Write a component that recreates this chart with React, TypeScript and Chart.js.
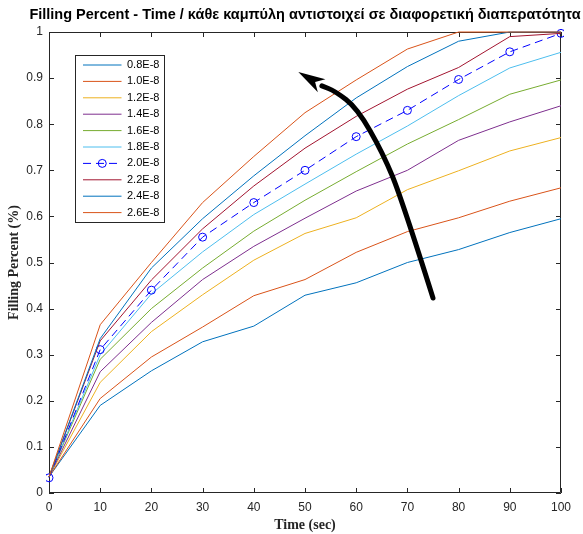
import React, { useEffect, useRef } from 'react';
import { Chart, registerables } from 'chart.js';

Chart.register(...registerables);

// ---------- data ----------
const TIME_SEC = [0, 10, 20, 30, 40, 50, 60, 70, 80, 90, 100];

const PERMEABILITY_LABELS = ['0.8E-8', '1.0E-8', '1.2E-8', '1.4E-8', '1.6E-8', '1.8E-8', '2.0E-8', '2.2E-8', '2.4E-8', '2.6E-8'];

const FILL_08 = [0.035, 0.19, 0.265, 0.328, 0.362, 0.429, 0.456, 0.5, 0.528, 0.565, 0.595];
const FILL_10 = [0.035, 0.205, 0.295, 0.36, 0.428, 0.463, 0.522, 0.567, 0.597, 0.633, 0.662];
const FILL_12 = [0.035, 0.24, 0.35, 0.43, 0.505, 0.563, 0.597, 0.658, 0.699, 0.742, 0.771];
const FILL_14 = [0.035, 0.263, 0.37, 0.463, 0.535, 0.596, 0.655, 0.7, 0.765, 0.805, 0.84];
const FILL_16 = [0.035, 0.29, 0.4, 0.488, 0.568, 0.635, 0.697, 0.757, 0.81, 0.865, 0.896];
const FILL_18 = [0.035, 0.3, 0.432, 0.523, 0.604, 0.67, 0.735, 0.796, 0.862, 0.922, 0.956];
const FILL_20 = [0.033, 0.311, 0.44, 0.555, 0.63, 0.7, 0.773, 0.83, 0.897, 0.957, 0.997];
const FILL_22 = [0.035, 0.33, 0.462, 0.573, 0.666, 0.748, 0.817, 0.876, 0.923, 0.99, 0.997];
const FILL_24 = [0.035, 0.335, 0.488, 0.595, 0.688, 0.775, 0.857, 0.925, 0.98, 1.0, 1.0];
const FILL_26 = [0.035, 0.365, 0.5, 0.63, 0.73, 0.825, 0.896, 0.963, 1.0, 1.0, 1.0];

const SERIES = [FILL_08, FILL_10, FILL_12, FILL_14, FILL_16, FILL_18, FILL_20, FILL_22, FILL_24, FILL_26];

const SERIES_COLORS = ['#0072BD', '#D95319', '#EDB120', '#7E2F8E', '#77AC30', '#4DBEEE', '#0000FF', '#A2142F', '#0072BD', '#D95319'];
const DASHED_INDEX = 6;

const X_TICK_LABELS = ['0', '10', '20', '30', '40', '50', '60', '70', '80', '90', '100'];
const Y_TICK_LABELS = ['0', '0.1', '0.2', '0.3', '0.4', '0.5', '0.6', '0.7', '0.8', '0.9', '1'];

const TITLE = 'Filling Percent - Time / κάθε καμπύλη αντιστοιχεί σε διαφορετική διαπερατότητα';
const X_TITLE = 'Time (sec)';
const Y_TITLE = 'Filling Percent (%)';

// annotation arrow, in data coordinates (time, fraction)
const ARROW_SHAFT = [[75.0, 0.423], [68.95, 0.636], [65.2, 0.738], [60.16, 0.835], [55.86, 0.872], [53.3, 0.883]];
const ARROW_TIP = [48.7, 0.913];

const SANS = '"Liberation Sans", Arial, Helvetica, sans-serif';
const SERIF = '"Liberation Serif", "Times New Roman", serif';
const AXIS_COLOR = '#262626';

// ---------- plugins ----------
const boxPlugin = {
  id: 'matlabBox',
  beforeDatasetsDraw(chart: any) {
    const { ctx, chartArea } = chart;
    const { left, right, top, bottom } = chartArea;
    const xs = chart.scales.x;
    const ys = chart.scales.y;
    ctx.save();
    ctx.strokeStyle = AXIS_COLOR;
    ctx.lineWidth = 1;
    ctx.beginPath();
    ctx.rect(Math.round(left) + 0.5, Math.round(top) + 0.5, Math.round(right - left) - 1, Math.round(bottom - top) - 1);
    ctx.stroke();
    const tl = 5;
    ctx.beginPath();
    xs.ticks.forEach((t: any) => {
      const px = Math.round(xs.getPixelForValue(t.value)) + 0.5;
      ctx.moveTo(px, bottom);
      ctx.lineTo(px, bottom - tl);
      ctx.moveTo(px, top);
      ctx.lineTo(px, top + tl);
    });
    ys.ticks.forEach((t: any) => {
      const py = Math.round(ys.getPixelForValue(t.value)) + 0.5;
      ctx.moveTo(left, py);
      ctx.lineTo(left + tl, py);
      ctx.moveTo(right, py);
      ctx.lineTo(right - tl, py);
    });
    ctx.stroke();
    ctx.restore();
  },
};

const arrowPlugin = {
  id: 'arrowAnnotation',
  afterDatasetsDraw(chart: any) {
    const { ctx } = chart;
    const xs = chart.scales.x;
    const ys = chart.scales.y;
    const pts = ARROW_SHAFT.map(([x, y]) => [xs.getPixelForValue(x), ys.getPixelForValue(y)]);
    const tip = [xs.getPixelForValue(ARROW_TIP[0]), ys.getPixelForValue(ARROW_TIP[1])];
    ctx.save();
    ctx.strokeStyle = '#000';
    ctx.fillStyle = '#000';
    ctx.lineWidth = 5;
    ctx.lineCap = 'round';
    ctx.lineJoin = 'round';
    ctx.beginPath();
    ctx.moveTo(pts[0][0], pts[0][1]);
    for (let i = 1; i < pts.length - 1; i++) {
      const mx = (pts[i][0] + pts[i + 1][0]) / 2;
      const my = (pts[i][1] + pts[i + 1][1]) / 2;
      ctx.quadraticCurveTo(pts[i][0], pts[i][1], mx, my);
    }
    const last = pts[pts.length - 1];
    ctx.lineTo(last[0], last[1]);
    ctx.stroke();
    // head
    let ux = tip[0] - last[0];
    let uy = tip[1] - last[1];
    const n = Math.hypot(ux, uy);
    ux /= n; uy /= n;
    const px = -uy, py = ux;
    const L = 27, W = 15;
    const bx = tip[0] - ux * L, by = tip[1] - uy * L;
    const nx = tip[0] - ux * L * 0.72, ny = tip[1] - uy * L * 0.72;
    ctx.beginPath();
    ctx.moveTo(tip[0], tip[1]);
    ctx.lineTo(bx + px * W / 2, by + py * W / 2);
    ctx.lineTo(nx, ny);
    ctx.lineTo(bx - px * W / 2, by - py * W / 2);
    ctx.closePath();
    ctx.fill();
    ctx.restore();
  },
};

const legendPlugin = {
  id: 'insideLegend',
  afterDraw(chart: any) {
    const { ctx, chartArea } = chart;
    const ds = chart.data.datasets;
    const bl = Math.round(chartArea.left + 26) + 0.5;
    const bt = Math.round(chartArea.top + 23) + 0.5;
    const bw = 89, bh = 167;
    const rowH = 16.4;
    ctx.save();
    ctx.fillStyle = '#fff';
    ctx.fillRect(bl, bt, bw, bh);
    ctx.strokeStyle = AXIS_COLOR;
    ctx.lineWidth = 1;
    ctx.strokeRect(bl, bt, bw, bh);
    ctx.font = `11px ${SANS}`;
    ctx.textBaseline = 'middle';
    ctx.textAlign = 'left';
    ds.forEach((d: any, i: number) => {
      const y = bt + 9.5 + i * rowH;
      const x1 = bl + 7.5, x2 = bl + 46;
      ctx.strokeStyle = d.borderColor;
      ctx.lineWidth = 1;
      ctx.setLineDash(d.borderDash || []);
      ctx.beginPath();
      ctx.moveTo(x1, y);
      ctx.lineTo(x2, y);
      ctx.stroke();
      ctx.setLineDash([]);
      if (d.pointRadius > 0) {
        ctx.beginPath();
        ctx.arc((x1 + x2) / 2, y, d.pointRadius, 0, Math.PI * 2);
        ctx.stroke();
      }
      ctx.fillStyle = '#000';
      ctx.fillText(d.label, bl + 51.5, y);
    });
    ctx.restore();
  },
};

const titlePlugin = {
  id: 'centeredTitle',
  afterDraw(chart: any) {
    const { ctx, chartArea } = chart;
    ctx.save();
    ctx.font = `bold 14.5px ${SANS}`;
    ctx.fillStyle = '#000';
    ctx.textAlign = 'center';
    ctx.textBaseline = 'middle';
    ctx.fillText(TITLE, (chartArea.left + chartArea.right) / 2, 15);
    ctx.restore();
  },
};

export default function App() {
  const ref = useRef<HTMLCanvasElement | null>(null);

  useEffect(() => {
    if (!ref.current) return;
    const datasets = SERIES.map((vals, i) => {
      const dashed = i === DASHED_INDEX;
      return {
        label: PERMEABILITY_LABELS[i],
        data: TIME_SEC.map((t, k) => ({ x: t, y: vals[k] })),
        borderColor: SERIES_COLORS[i],
        backgroundColor: 'transparent',
        borderWidth: 1,
        borderDash: dashed ? [8, 5] : [],
        pointRadius: dashed ? 4 : 0,
        pointBorderWidth: 1,
        pointBorderColor: SERIES_COLORS[i],
        pointBackgroundColor: 'transparent',
        pointStyle: 'circle',
        tension: 0,
        fill: false,
        order: -i,
        clip: 3,
      };
    });

    const chart = new Chart(ref.current, {
      type: 'line',
      data: { datasets },
      options: {
        responsive: false,
        animation: false,
        devicePixelRatio: 1,
        layout: { padding: { left: 0, right: 22, top: 32, bottom: 0 } },
        plugins: {
          legend: { display: false },
          tooltip: { enabled: false },
          title: { display: false },
        },
        scales: {
          x: {
            type: 'linear',
            min: 0,
            max: 100,
            ticks: {
              stepSize: 10,
              padding: 7,
              color: AXIS_COLOR,
              maxRotation: 0,
              font: { family: SANS, size: 12 },
              callback: (_v: any, idx: number) => X_TICK_LABELS[idx],
            },
            grid: { display: false, drawTicks: false },
            border: { display: false },
            title: {
              display: true,
              text: X_TITLE,
              color: AXIS_COLOR,
              font: { family: SERIF, size: 14, weight: 'bold' },
              padding: { top: 0, bottom: 0 },
            },
            afterFit: (s: any) => { s.height = 41; },
          },
          y: {
            type: 'linear',
            min: 0,
            max: 1,
            ticks: {
              stepSize: 0.1,
              padding: 6,
              color: AXIS_COLOR,
              font: { family: SANS, size: 12 },
              callback: (_v: any, idx: number) => Y_TICK_LABELS[idx],
            },
            grid: { display: false, drawTicks: false },
            border: { display: false },
            title: {
              display: true,
              text: Y_TITLE,
              color: AXIS_COLOR,
              font: { family: SERIF, size: 14, weight: 'bold' },
              padding: { top: 6, bottom: 0 },
            },
            afterFit: (s: any) => { s.width = 49; },
          },
        },
      },
      plugins: [boxPlugin, arrowPlugin, legendPlugin, titlePlugin],
    } as any);

    return () => chart.destroy();
  }, []);

  return (
    <div style={{ position: 'fixed', left: 0, top: 0, width: 583, height: 534, background: '#fff' }}>
      <canvas ref={ref} width={583} height={534} style={{ display: 'block', width: 583, height: 534 }} />
    </div>
  );
}
